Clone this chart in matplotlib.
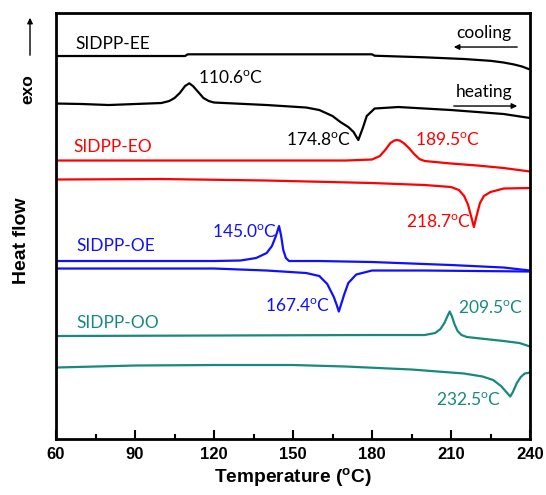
import numpy as np
import matplotlib
matplotlib.use('Agg')
import matplotlib.pyplot as plt

plt.rcParams['mathtext.fontset'] = 'custom'
plt.rcParams['mathtext.rm'] = 'Lato'
plt.rcParams['mathtext.bf'] = 'Liberation Sans:bold'

# temperature (C) and heat flow (arb. units, curves offset)
ee_cool_t = [60, 109, 110, 180, 181, 200, 215, 225, 230, 234, 237, 240]
ee_cool_h = [38.3, 38.3, 38.47, 38.47, 38.33, 38.17, 38.0, 37.82, 37.65, 37.45, 37.25, 36.95]

ee_heat_t = [60, 70, 80, 90, 100, 103, 105, 107, 109, 110.6, 112, 114, 116, 118, 120,
             140, 155, 160, 165, 168, 171, 173, 174.8, 176.5, 178, 181, 190, 210, 230, 240]
ee_heat_h = [33.55, 33.5, 33.4, 33.5, 33.6, 33.8, 34.1, 34.6, 35.3, 35.57, 35.3, 34.7, 34.1, 33.8, 33.65,
             33.4, 33.15, 32.9, 32.3, 31.7, 31.2, 30.7, 29.9, 31.1, 32.3, 33.05, 33.2, 32.9, 32.5, 32.1]

eo_cool_t = [60, 120, 170, 180, 183, 185, 187, 188.5, 189.5, 190.5, 192, 194, 196, 198, 200, 210, 220, 230, 240]
eo_cool_h = [27.85, 27.85, 27.85, 27.95, 28.3, 28.9, 29.6, 29.85, 29.9, 29.85, 29.6, 29.1, 28.5, 28.0, 27.8,
             27.55, 27.35, 27.1, 26.75]

eo_heat_t = [60, 100, 140, 180, 200, 210, 213, 215, 216.5, 217.5, 218.7, 219.7, 221, 222.5, 225, 230, 240]
eo_heat_h = [25.95, 26.0, 25.85, 25.6, 25.4, 25.2, 24.9, 24.3, 23.4, 22.4, 21.2, 22.3, 23.6, 24.3, 24.7, 25.05, 25.1]

oe_cool_t = [60, 120, 130, 136, 140, 142, 143.5, 144.7, 145.5, 146.3, 147.3, 148.5, 160, 180, 210, 230, 240]
oe_cool_h = [17.8, 17.8, 17.85, 18.1, 18.6, 19.3, 20.3, 21.3, 20.3, 18.9, 18.1, 17.8, 17.8, 17.7, 17.4, 17.15, 16.85]

oe_heat_t = [60, 120, 140, 155, 160, 163, 165.5, 166.6, 167.4, 168.3, 169.5, 171, 174, 180, 200, 220, 240]
oe_heat_h = [17.05, 17.05, 16.85, 16.6, 16.3, 15.5, 14.2, 13.4, 12.75, 13.5, 14.5, 15.6, 16.45, 16.85, 16.85, 16.8, 16.75]

oo_cool_t = [60, 120, 180, 200, 204, 206, 207.5, 208.5, 209.5, 210.3, 211.3, 212.5, 214, 216, 230, 236, 240]
oo_cool_h = [10.3, 10.35, 10.4, 10.4, 10.6, 11.0, 11.6, 12.2, 12.75, 12.3, 11.5, 10.8, 10.4, 10.2, 9.8, 9.6, 9.25]

oo_heat_t = [60, 90, 120, 150, 170, 195, 215, 222, 226, 229, 231, 232.5, 233.5, 235, 236.5, 238, 240]
oo_heat_h = [7.15, 7.35, 7.4, 7.4, 7.25, 6.95, 6.55, 6.25, 5.9, 5.3, 4.7, 4.25, 4.7, 5.6, 6.2, 6.55, 6.65]

names = ['SIDPP-EE', 'SIDPP-EO', 'SIDPP-OE', 'SIDPP-OO']
colors = ['black', '#ff0000', '#1010ff', '#17897f']

fig = plt.figure(figsize=(5.46, 4.95), dpi=100)
ax = fig.add_axes([0.1026, 0.1131, 0.8681, 0.8606])

curves = [(ee_cool_t, ee_cool_h, ee_heat_t, ee_heat_h),
          (eo_cool_t, eo_cool_h, eo_heat_t, eo_heat_h),
          (oe_cool_t, oe_cool_h, oe_heat_t, oe_heat_h),
          (oo_cool_t, oo_cool_h, oo_heat_t, oo_heat_h)]
for (ct, ch, ht, hh), c in zip(curves, colors):
    ax.plot(ct, ch, color=c, lw=1.6, solid_joinstyle='round')
    ax.plot(ht, hh, color=c, lw=1.6, solid_joinstyle='round')

# sample names
fs = 12.5
name_pos = [(67.2, 39.5), (66.5, 29.2), (67.8, 19.3), (67.6, 11.6)]
for n, (x, y), c in zip(names, name_pos, colors):
    ax.text(x, y, n, color=c, fontsize=fs, family='Lato', va='center', ha='left')

# peak temperatures
peaks = [('110.6', 113.9, 36.1, 'black'), ('174.8', 147.2, 29.9, 'black'),
         ('189.5', 196.3, 29.9, '#ff0000'), ('218.7', 192.9, 21.7, '#ff0000'),
         ('145.0', 119.2, 20.7, '#1010ff'), ('167.4', 139.4, 13.3, '#1010ff'),
         ('209.5', 212.7, 13.1, '#17897f'), ('232.5', 204.3, 3.9, '#17897f')]
for val, x, y, c in peaks:
    ax.text(x, y, val + r'$^{\mathrm{o}}$C', color=c, fontsize=fs, family='Lato', va='center', ha='left')

ax.text(211.9, 40.6, 'cooling', fontsize=fs, family='Lato', va='center')
ax.annotate('', xy=(210, 39.2), xytext=(236.2, 39.2),
            arrowprops=dict(arrowstyle='-|>', color='black', lw=1, mutation_scale=8))
ax.text(211.9, 34.7, 'heating', fontsize=fs, family='Lato', va='center')
ax.annotate('', xy=(236.2, 33.3), xytext=(210, 33.3),
            arrowprops=dict(arrowstyle='-|>', color='black', lw=1, mutation_scale=8))

ax.set_xlim(60, 240)
ax.set_ylim(0, 42.6)
ax.set_xticks([60, 90, 120, 150, 180, 210, 240])
ax.set_xticks([75, 105, 135, 165, 195, 225], minor=True)
ax.set_yticks([])
ax.tick_params(axis='x', which='major', direction='in', length=6.5, width=1.5, pad=6)
ax.tick_params(axis='x', which='minor', direction='in', length=3.5, width=1.5)
for lab in ax.get_xticklabels():
    lab.set_family('Liberation Sans')
    lab.set_fontweight('bold')
    lab.set_fontsize(12)
for s in ax.spines.values():
    s.set_linewidth(2)

ax.set_xlabel(r'Temperature ($^{\mathbf{o}}$C)', family='Liberation Sans', fontweight='bold',
              fontsize=13.8, labelpad=3)

fig.text(21 / 546, 1 - 241 / 495, 'Heat flow', rotation=90, family='Liberation Sans',
         fontweight='bold', fontsize=14, ha='center', va='center')
fig.text(27.5 / 546, 1 - 89 / 495, 'exo', rotation=90, family='Liberation Sans',
         fontweight='bold', fontsize=12.5, ha='center', va='center')
fig.patches.append(matplotlib.patches.FancyArrowPatch(
    (30 / 546, 1 - 58 / 495), (30 / 546, 1 - 15 / 495), transform=fig.transFigure,
    arrowstyle='-|>', mutation_scale=8, color='black', lw=1))

fig.savefig('out.png', dpi=100)
